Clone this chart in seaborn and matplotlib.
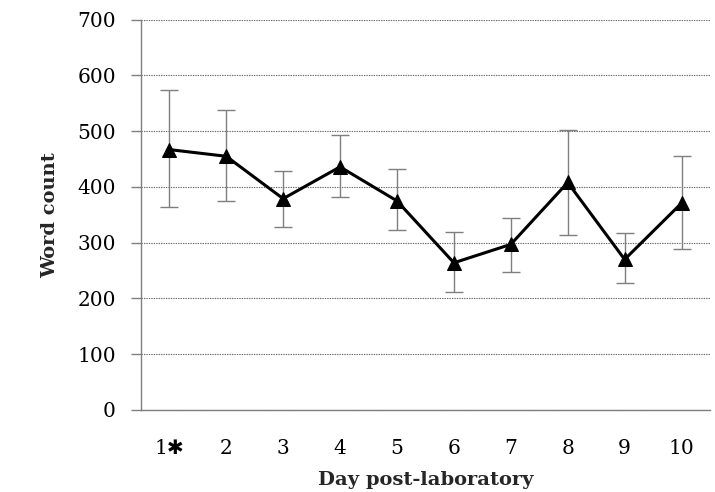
import numpy as np
import pandas as pd
import matplotlib
matplotlib.use("Agg")
import matplotlib.pyplot as plt
import seaborn as sns

# ------------------------------------------------------------
# Dados
# ------------------------------------------------------------
dias = ["1✱", "2", "3", "4", "5", "6", "7", "8", "9", "10"]
palavras = [467, 455, 379, 436, 375, 264, 297, 408, 270, 371]
erro_sup = [574, 538, 429, 493, 432, 320, 345, 503, 317, 455]
erro_inf = [364, 374, 329, 382, 323, 211, 248, 314, 227, 289]

df = pd.DataFrame({"pos": np.arange(len(dias)), "dia": dias, "palavras": palavras})

sns.set_theme(style="white")
plt.rcParams["font.family"] = ["DejaVu Serif", "DejaVu Sans"]

fig = plt.figure(figsize=(7.15, 4.92), dpi=100)
ax = fig.add_axes([0.197, 0.1667, 0.796, 0.7933])

# barras de erro (cinza) por baixo da linha
yerr = [np.array(palavras) - np.array(erro_inf), np.array(erro_sup) - np.array(palavras)]
ax.errorbar(df["pos"], df["palavras"], yerr=yerr, fmt="none", ecolor="#7f7f7f",
            elinewidth=1.0, capsize=6.5, capthick=1.0, zorder=2)

sns.lineplot(data=df, x="pos", y="palavras", color="black", linewidth=2.2,
             marker="^", markersize=10.5, markeredgecolor="black", ax=ax, zorder=3)

# eixos
ax.set_xlim(-0.5, len(dias) - 0.5)
ax.set_ylim(0, 700)
ax.set_yticks(range(0, 701, 100))
ax.set_xticks(df["pos"])
ax.set_xticklabels(dias)
ax.set_xticks(np.arange(-0.5, len(dias), 1), minor=True)
ax.tick_params(axis="x", which="major", length=0, pad=21, labelsize=14.5, colors="black")
ax.tick_params(axis="x", which="minor", length=7, width=1, color="#7f7f7f", direction="out")
ax.tick_params(axis="y", length=7, width=1, color="#7f7f7f", direction="out", pad=11,
               labelsize=14.5, labelcolor="black", left=True)

ax.yaxis.grid(True, linestyle=(0, (1.2, 1.0)), color="#666666", linewidth=0.8)
ax.xaxis.grid(False)
ax.set_axisbelow(True)

for s in ["top", "right"]:
    ax.spines[s].set_visible(False)
for s in ["left", "bottom"]:
    ax.spines[s].set_color("#7f7f7f")
    ax.spines[s].set_linewidth(1.0)

ax.set_xlabel("Day post-laboratory", fontsize=14, fontweight="bold", labelpad=9)
ax.set_ylabel("Word count", fontsize=14, fontweight="bold", labelpad=13)

fig.savefig("out.png", dpi=100)
